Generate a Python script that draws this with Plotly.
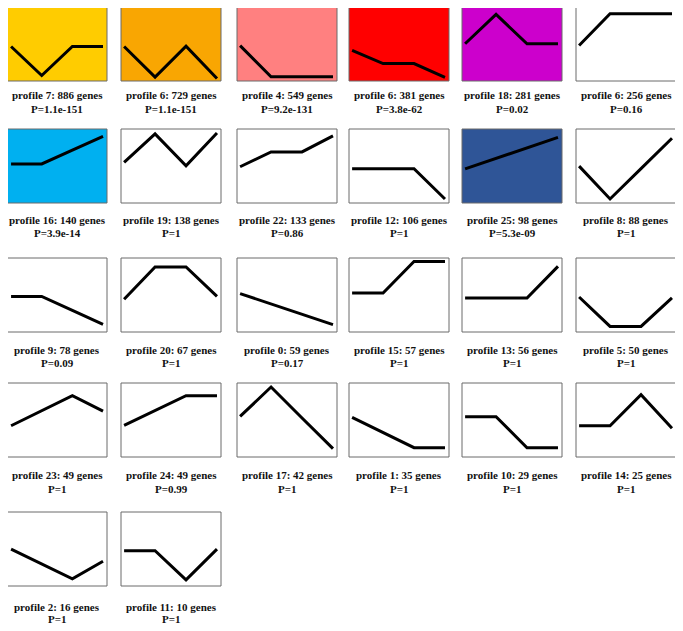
import plotly.graph_objects as go

# ---- data ----
profile_ids = [7, 6, 4, 6, 18, 6,
               16, 19, 22, 12, 25, 8,
               9, 20, 0, 15, 13, 5,
               23, 24, 17, 1, 10, 14,
               2, 11]
gene_counts = [886, 729, 549, 381, 281, 256,
               140, 138, 133, 106, 98, 88,
               78, 67, 59, 57, 56, 50,
               49, 49, 42, 35, 29, 25,
               16, 10]
p_values = ["1.1e-151", "1.1e-151", "9.2e-131", "3.8e-62", "0.02", "0.16",
            "3.9e-14", "1", "0.86", "1", "5.3e-09", "1",
            "0.09", "1", "0.17", "1", "1", "1",
            "1", "0.99", "1", "1", "1", "1",
            "1", "1"]
time_points = [0, 1, 2, 3]
profiles = [
    [0.0, -0.95, 0.0, 0.0],
    [0.0, -1.0, 0.01, -1.05],
    [0.03, -0.99, -0.99, -0.99],
    [-0.13, -0.56, -0.56, -1.01],
    [0.09, 1.05, 0.09, 0.09],
    [0.03, 1.07, 1.07, 1.07],
    [0.13, 0.13, 0.58, 1.02],
    [0.18, 1.10, 0.07, 1.13],
    [0.04, 0.52, 0.52, 1.04],
    [-0.02, -0.02, -0.02, -1.0],
    [-0.03, 0.31, 0.65, 0.99],
    [0.06, -1.0, -0.02, 0.96],
    [0.02, 0.02, -0.43, -0.88],
    [-0.07, 0.97, 0.97, 0.02],
    [0.11, -0.22, -0.56, -0.89],
    [0.13, 0.13, 1.15, 1.15],
    [-0.03, -0.03, -0.03, 0.99],
    [0.0, -0.95, -0.95, -0.03],
    [-0.12, 0.36, 0.85, 0.35],
    [-0.11, 0.37, 0.85, 0.85],
    [0.18, 1.13, 0.13, -0.86],
    [0.15, -0.34, -0.83, -0.83],
    [0.17, 0.17, -0.83, -0.83],
    [-0.12, -0.12, 0.88, -0.20],
    [0.06, -0.42, -0.90, -0.33],
    [0.01, 0.01, -0.93, 0.06],
]
bg_colors = ["#FFCC00", "#F9A602", "#FF8080", "#FF0000", "#CC00CC", "#FFFFFF",
             "#00B0F0", "#FFFFFF", "#FFFFFF", "#FFFFFF", "#2F5597", "#FFFFFF",
             "#FFFFFF", "#FFFFFF", "#FFFFFF", "#FFFFFF", "#FFFFFF", "#FFFFFF",
             "#FFFFFF", "#FFFFFF", "#FFFFFF", "#FFFFFF", "#FFFFFF", "#FFFFFF",
             "#FFFFFF", "#FFFFFF"]

# ---- layout geometry (page pixels; the page body adds an 8px margin) ----
W, H = 683, 631
OFF = 8
col_left = [7, 121, 237, 349, 462, 576]
box_w = 100
row_top = [7, 129, 258, 383, 512]
box_h = 74
text_y = [(95, 109), (220, 233), (350, 363), (475, 489), (607, 619)]
ncols = 6

fig = go.Figure()
layout = dict(width=W, height=H, margin=dict(l=0, r=0, t=0, b=0),
              paper_bgcolor="white", plot_bgcolor="rgba(0,0,0,0)",
              showlegend=False, shapes=[], annotations=[])
font = dict(family="Liberation Serif, Times New Roman, serif", size=11, color="#111111")

for i, vals in enumerate(profiles):
    r, c = divmod(i, ncols)
    k = i + 1
    xa = "xaxis" if k == 1 else f"xaxis{k}"
    ya = "yaxis" if k == 1 else f"yaxis{k}"
    xr = "x" if k == 1 else f"x{k}"
    yr = "y" if k == 1 else f"y{k}"
    lpx = col_left[c] - OFF
    tpx = row_top[r] - OFF
    x0 = lpx / W
    x1 = (lpx + box_w) / W
    y1 = 1 - tpx / H
    y0 = 1 - (tpx + box_h) / H
    layout[xa] = dict(domain=[max(0.0, x0), x1], range=[-0.1, 3.13], visible=False,
                      anchor=yr, fixedrange=True)
    layout[ya] = dict(domain=[y0, min(1.0, y1)], range=[-1.13, 1.26], visible=False,
                      anchor=xr, fixedrange=True)
    layout["shapes"].append(dict(type="rect", xref="paper", yref="paper",
                                 x0=x0, x1=x1, y0=y0, y1=y1,
                                 fillcolor=bg_colors[i], layer="below",
                                 line=dict(color="#6b6b6b", width=1)))
    fig.add_trace(go.Scatter(x=time_points, y=vals, mode="lines",
                             line=dict(color="black", width=3),
                             xaxis=xr, yaxis=yr, hoverinfo="skip", cliponaxis=True))
    cx = (lpx + box_w / 2) / W
    layout["annotations"].append(dict(
        x=cx, y=1 - (text_y[r][0] - OFF) / H, xref="paper", yref="paper",
        text=f"<b>profile {profile_ids[i]}: {gene_counts[i]} genes</b>",
        showarrow=False, font=font, xanchor="center", yanchor="middle"))
    layout["annotations"].append(dict(
        x=cx, y=1 - (text_y[r][1] - OFF) / H, xref="paper", yref="paper",
        text=f"<b>P={p_values[i]}</b>",
        showarrow=False, font=font, xanchor="center", yanchor="middle"))

fig.update_layout(**layout)
fig.write_html("out.html")
